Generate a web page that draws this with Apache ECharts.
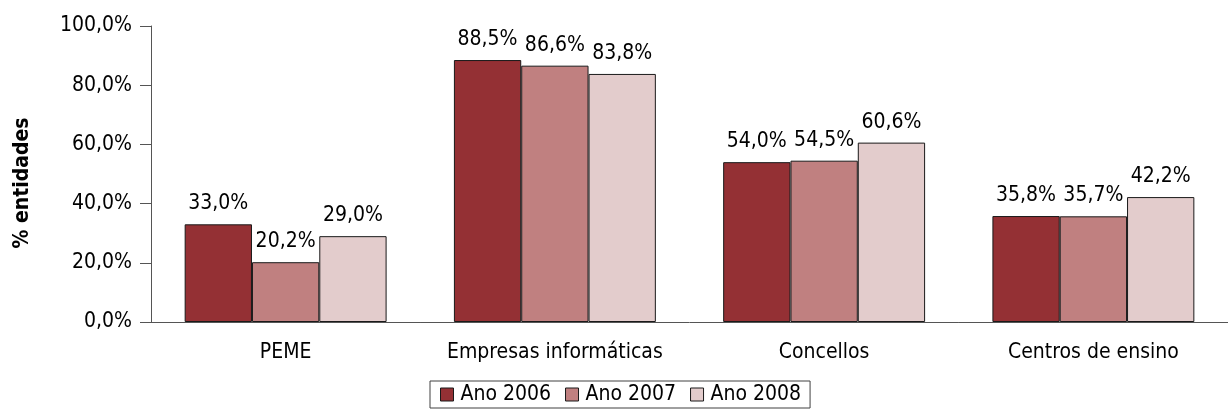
<!DOCTYPE html>
<html>
<head>
<meta charset="utf-8">
<script src="https://cdn.jsdelivr.net/npm/echarts@6/dist/echarts.min.js"></script>
<style>
  html, body { margin: 0; padding: 0; background: #fff; }
  #chart { width: 1228px; height: 412px; }
</style>
</head>
<body>
<div id="chart"></div>
<script>
// categorías e series
const categories = ["PEME", "Empresas informáticas", "Concellos", "Centros de ensino"];
const ano2006 = [33.0, 88.5, 54.0, 35.8];
const ano2007 = [20.2, 86.6, 54.5, 35.7];
const ano2008 = [29.0, 83.8, 60.6, 42.2];
const seriesNames = ["Ano 2006", "Ano 2007", "Ano 2008"];

const FONT = "DejaVu Sans Condensed, DejaVu Sans, sans-serif";
const colors = ["#943034", "#c08080", "#e3cccc"];

const fmt = v => v.toFixed(1).replace(".", ",") + "%";

function makeSeries(name, data) {
  return {
    name: name,
    type: "bar",
    data: data,
    barGap: "0%",
    barCategoryGap: "25%",
    itemStyle: { borderColor: "#1a1a1a", borderWidth: 1 },
    label: {
      show: true,
      position: "top",
      distance: 10,
      color: "#000",
      fontFamily: FONT,
      fontSize: 21,
      formatter: p => fmt(p.value),
    },
  };
}

const chart = echarts.init(document.getElementById("chart"));
chart.setOption({
  animation: false,
  color: colors,
  textStyle: { fontFamily: FONT },
  grid: { left: 151, top: 26, width: 1088, height: 296, containLabel: false },
  legend: {
    bottom: 4,
    left: 430,
    itemWidth: 13,
    itemHeight: 13,
    itemGap: 14,
    padding: [3, 9, 3, 10],
    borderColor: "#404040",
    borderWidth: 1,
    icon: "rect",
    itemStyle: { borderColor: "#1a1a1a", borderWidth: 1 },
    textStyle: { fontFamily: FONT, fontSize: 21, color: "#000", padding: [0, 0, 0, 2] },
    data: seriesNames,
  },
  xAxis: {
    type: "category",
    data: categories,
    axisLine: { lineStyle: { color: "#555" } },
    axisTick: { alignWithLabel: true, length: 10, lineStyle: { color: "#555" } },
    axisLabel: { color: "#000", fontFamily: FONT, fontSize: 21, margin: 20, interval: 0 },
  },
  yAxis: {
    type: "value",
    min: 0,
    max: 100,
    interval: 20,
    name: "% entidades",
    nameLocation: "middle",
    nameGap: 118,
    nameTextStyle: { fontFamily: FONT, fontSize: 21, fontWeight: "bold", color: "#000", padding: [0, 18, 0, 0] },
    axisLine: { show: true, lineStyle: { color: "#555" } },
    axisTick: { show: true, inside: false, length: 11, lineStyle: { color: "#555" } },
    splitLine: { show: false },
    axisLabel: { color: "#000", fontFamily: FONT, fontSize: 21, margin: 19, formatter: v => fmt(v) },
  },
  series: [
    makeSeries(seriesNames[0], ano2006),
    makeSeries(seriesNames[1], ano2007),
    makeSeries(seriesNames[2], ano2008),
  ],
});
</script>
</body>
</html>
